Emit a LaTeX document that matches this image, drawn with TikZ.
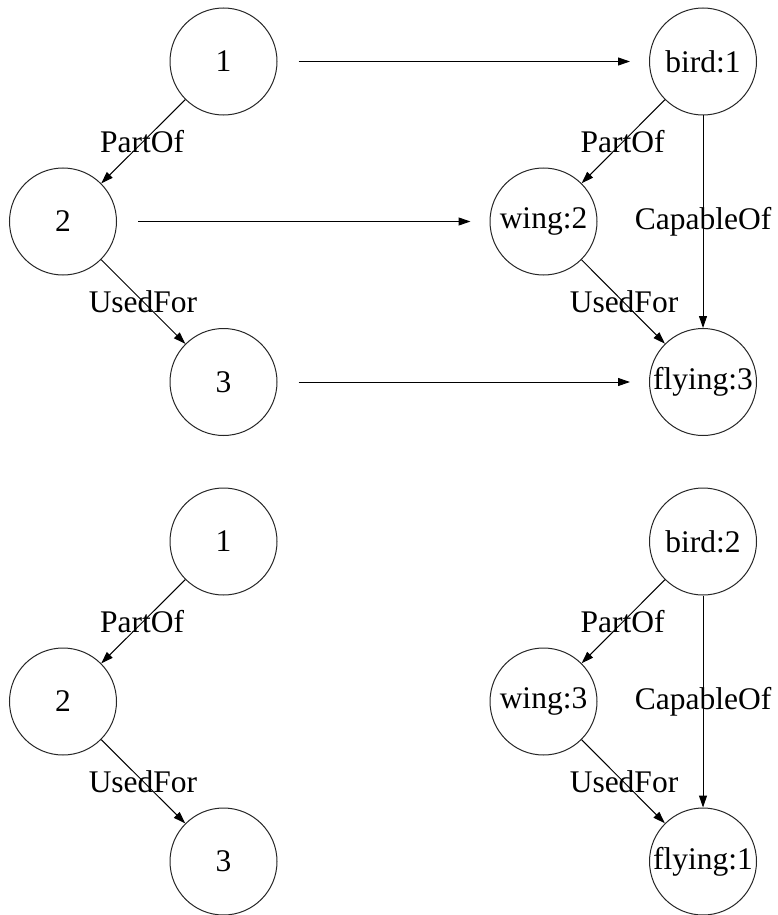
\documentclass[tikz,border=0pt]{standalone}
\usepackage{fontspec}
\setmainfont{Liberation Serif}
\usetikzlibrary{arrows.meta}
\begin{document}
\begin{tikzpicture}[x=1pt,y=-1pt,
  every node/.style={font=\fontsize{31.5}{38}\selectfont},
  vert/.style={circle,draw=black!85,line width=1pt,minimum size=107pt,inner sep=0pt},
  rel/.style={-{Triangle[length=12pt,width=8pt]},line width=1pt},
  map/.style={rel,shorten <=21pt,shorten >=19pt},
  lbl/.style={anchor=base,inner sep=0pt}]
\useasboundingbox (0,0) rectangle (778,915);

% upper pattern and its instance
\node[vert] (p1) at (223.5,61.5) {1};
\node[vert] (p2) at (63,221.5) {2};
\node[vert] (p3) at (223.5,382) {3};
\node[vert] (bird1) at (703,61.5) {bird:1};
\node[vert] (wing2) at (543.5,221.5) {wing:2};
\node[vert] (fly3) at (703,382) {flying:3};

\draw[rel] (p1) -- (p2);
\draw[rel] (p2) -- (p3);
\draw[rel] (bird1) -- (wing2);
\draw[rel] (wing2) -- (fly3);
\draw[rel] (bird1) -- (fly3);
\draw[map] (p1) -- (bird1);
\draw[map] (p2) -- (wing2);
\draw[map] (p3) -- (fly3);

\node[lbl] (l1) at (142,152) {PartOf};
\node[lbl] (l2) at (143,312) {UsedFor};
\node[lbl] (l3) at (622.5,152) {PartOf};
\node[lbl] (l4) at (624,312) {UsedFor};
\node[lbl] (l5) at (703,229) {CapableOf};

% lower pattern and its instance
\node[vert] (q1) at (223.5,541.5) {1};
\node[vert] (q2) at (63,701.5) {2};
\node[vert] (q3) at (223.5,861.5) {3};
\node[vert] (bird2) at (703,541.5) {bird:2};
\node[vert] (wing3) at (543.5,701.5) {wing:3};
\node[vert] (fly1) at (703,861.5) {flying:1};

\draw[rel] (q1) -- (q2);
\draw[rel] (q2) -- (q3);
\draw[rel] (bird2) -- (wing3);
\draw[rel] (wing3) -- (fly1);
\draw[rel] (bird2) -- (fly1);

\node[lbl] (m1) at (142,632) {PartOf};
\node[lbl] (m2) at (143,792) {UsedFor};
\node[lbl] (m3) at (622.5,632) {PartOf};
\node[lbl] (m4) at (624,792) {UsedFor};
\node[lbl] (m5) at (703,709) {CapableOf};
\end{tikzpicture}
\end{document}
